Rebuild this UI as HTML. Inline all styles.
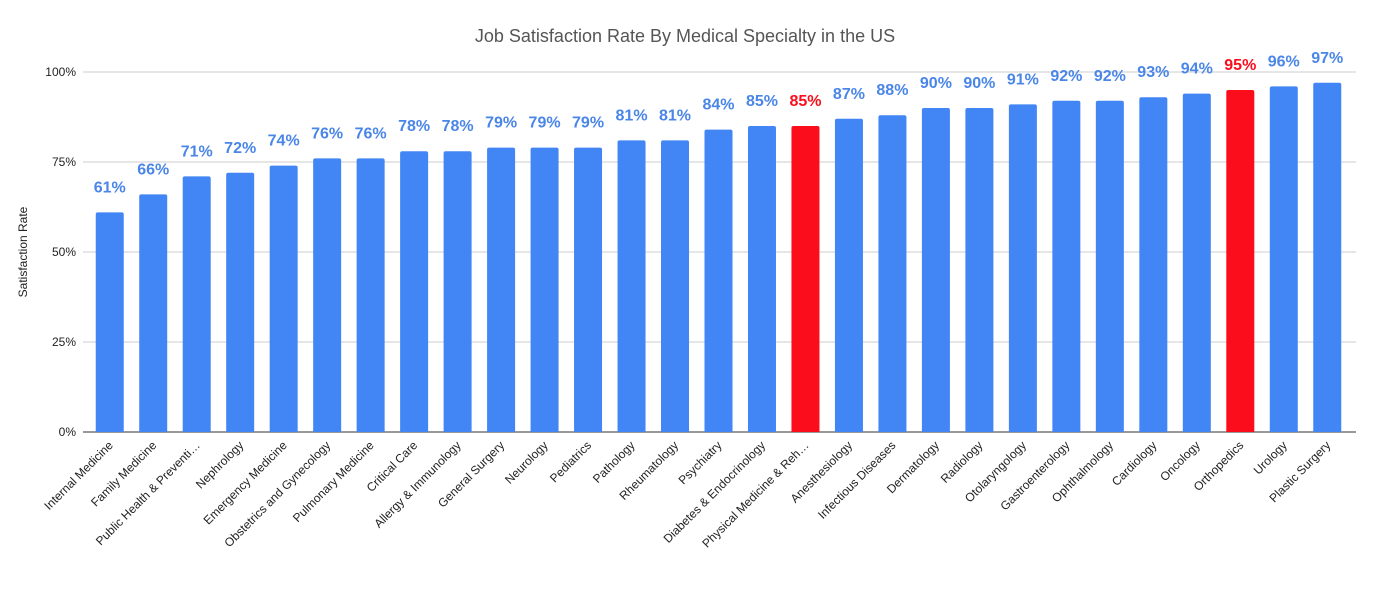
<!DOCTYPE html>
<html><head><meta charset="utf-8"><style>
body{margin:0;background:#fff;width:1376px;height:586px;overflow:hidden}
text{font-family:"Liberation Sans",sans-serif}
</style></head><body>
<svg id="chart" width="1376" height="586" xmlns="http://www.w3.org/2000/svg">
<text x="685" y="42" text-anchor="middle" font-size="18" fill="#555">Job Satisfaction Rate By Medical Specialty in the US</text>
<text transform="translate(27,252) rotate(-90)" text-anchor="middle" font-size="12" fill="#222">Satisfaction Rate</text>
<g id="grid"></g><g id="bars"></g><g id="labels"></g>
</svg>
<script>
const categories=["Internal Medicine","Family Medicine","Public Health & Preventi…","Nephrology","Emergency Medicine","Obstetrics and Gynecology","Pulmonary Medicine","Critical Care","Allergy & Immunology","General Surgery","Neurology","Pediatrics","Pathology","Rheumatology","Psychiatry","Diabetes & Endocrinology","Physical Medicine & Reh…","Anesthesiology","Infectious Diseases","Dermatology","Radiology","Otolaryngology","Gastroenterology","Ophthalmology","Cardiology","Oncology","Orthopedics","Urology","Plastic Surgery"];
const values=[61,66,71,72,74,76,76,78,78,79,79,79,81,81,84,85,85,87,88,90,90,91,92,92,93,94,95,96,97];
const highlighted=["Physical Medicine & Reh…","Orthopedics"];
const yTicks=[0,25,50,75,100];
const NS="http://www.w3.org/2000/svg";
const plotLeft=88,plotRight=1349,plotTop=72,plotBottom=432;
const step=(plotRight-plotLeft)/categories.length;
const xPos=i=>plotLeft+step*(i+0.5);
const yPos=v=>plotBottom-(v/100)*(plotBottom-plotTop);
const grid=document.getElementById('grid'),bars=document.getElementById('bars'),labels=document.getElementById('labels');
yTicks.forEach(t=>{
 const l=document.createElementNS(NS,'line');
 
 
 l.setAttribute('x1',83);l.setAttribute('x2',1356);l.setAttribute('y1',yPos(t));l.setAttribute('y2',yPos(t));
 l.setAttribute('stroke',t===0?'#333':'#ccc');l.setAttribute('stroke-width',1);
 grid.appendChild(l);
 const tx=document.createElementNS(NS,'text');
 
 
 tx.setAttribute('x',76);tx.setAttribute('y',yPos(t)+4);tx.setAttribute('text-anchor','end');tx.setAttribute('font-size',12);tx.setAttribute('fill','#222');
 tx.textContent=t+'%';grid.appendChild(tx);
});
categories.forEach((c,i)=>{
 const hi=highlighted.includes(c);
 const col=hi?'#fc0d1b':'#4285f4';
 const w=28,cx=xPos(i),yt=yPos(values[i]);
 const p=document.createElementNS(NS,'path');
 
 
 const r=2;
 p.setAttribute('d',`M${cx-w/2},${plotBottom}V${yt+r}Q${cx-w/2},${yt} ${cx-w/2+r},${yt}H${cx+w/2-r}Q${cx+w/2},${yt} ${cx+w/2},${yt+r}V${plotBottom}Z`);
 p.setAttribute('fill',col);bars.appendChild(p);
 const v=document.createElementNS(NS,'text');
 
 
 v.setAttribute('x',cx);v.setAttribute('y',yt-20);v.setAttribute('text-anchor','middle');v.setAttribute('font-size',16);v.setAttribute('font-weight','bold');
 v.setAttribute('fill',hi?'#fc0d1b':'#4a86e8');v.textContent=values[i]+'%';labels.appendChild(v);
 const t=document.createElementNS(NS,'text');
 
 
 t.setAttribute('transform',`translate(${cx+4},${plotBottom+14}) rotate(-45)`);t.setAttribute('text-anchor','end');t.setAttribute('font-size',12);t.setAttribute('fill','#222');
 t.textContent=c;labels.appendChild(t);
});
</script>
</body></html>
